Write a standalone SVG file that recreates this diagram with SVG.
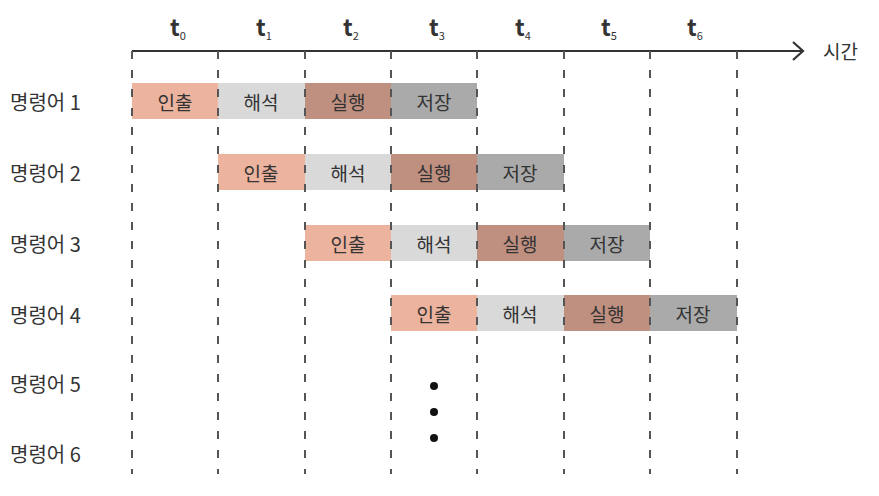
<svg xmlns="http://www.w3.org/2000/svg" width="879" height="496" viewBox="0 0 879 496">
<style>
text{font-family:"Noto Sans CJK KR","Noto Sans",sans-serif;fill:#333}
.lab{font-size:20px;dominant-baseline:central}
.bt{font-size:19px;text-anchor:middle;dominant-baseline:central}
.tt{font-size:23px;font-weight:bold;text-anchor:middle}
.sub{font-size:11px;font-weight:normal}
.a{fill:#ecb39e}.b{fill:#d9d9d9}.c{fill:#bf8f80}.d{fill:#aaaaaa}
.grid line{stroke:#555;stroke-width:2;stroke-dasharray:8 11}
</style>
<g id="axis">
<line x1="132" y1="51" x2="803" y2="51" stroke="#333" stroke-width="2.2"/>
<polyline points="793,42 803,51 793,60" fill="none" stroke="#333" stroke-width="2.2"/>
<text x="823" y="59" style="font-size:19px">시간</text>
</g>
<g id="tlabels">
<text class="tt" x="178" y="36">t<tspan class="sub" dy="4">0</tspan></text>
<text class="tt" x="264" y="36">t<tspan class="sub" dy="4">1</tspan></text>
<text class="tt" x="351" y="36">t<tspan class="sub" dy="4">2</tspan></text>
<text class="tt" x="437" y="36">t<tspan class="sub" dy="4">3</tspan></text>
<text class="tt" x="523" y="36">t<tspan class="sub" dy="4">4</tspan></text>
<text class="tt" x="609" y="36">t<tspan class="sub" dy="4">5</tspan></text>
<text class="tt" x="695" y="36">t<tspan class="sub" dy="4">6</tspan></text>
</g>
<g id="rowlabels">
<text class="lab" x="10" y="101">명령어 1</text>
<text class="lab" x="10" y="172">명령어 2</text>
<text class="lab" x="10" y="243">명령어 3</text>
<text class="lab" x="10" y="314">명령어 4</text>
<text class="lab" x="10" y="383">명령어 5</text>
<text class="lab" x="10" y="453">명령어 6</text>
</g>
<g id="row1">
<rect class="a" x="132" y="83" width="86" height="36"/><text class="bt" x="175" y="101">인출</text>
<rect class="b" x="218" y="83" width="87" height="36"/><text class="bt" x="261" y="101">해석</text>
<rect class="c" x="305" y="83" width="86" height="36"/><text class="bt" x="348" y="101">실행</text>
<rect class="d" x="391" y="83" width="86" height="36"/><text class="bt" x="434" y="101">저장</text>
</g>
<g id="row2">
<rect class="a" x="218" y="154" width="87" height="36"/><text class="bt" x="261" y="172">인출</text>
<rect class="b" x="305" y="154" width="86" height="36"/><text class="bt" x="348" y="172">해석</text>
<rect class="c" x="391" y="154" width="86" height="36"/><text class="bt" x="434" y="172">실행</text>
<rect class="d" x="477" y="154" width="87" height="36"/><text class="bt" x="520" y="172">저장</text>
</g>
<g id="row3">
<rect class="a" x="305" y="225" width="86" height="36"/><text class="bt" x="348" y="243">인출</text>
<rect class="b" x="391" y="225" width="86" height="36"/><text class="bt" x="434" y="243">해석</text>
<rect class="c" x="477" y="225" width="87" height="36"/><text class="bt" x="520" y="243">실행</text>
<rect class="d" x="564" y="225" width="86" height="36"/><text class="bt" x="607" y="243">저장</text>
</g>
<g id="row4">
<rect class="a" x="391" y="295" width="86" height="36"/><text class="bt" x="434" y="313">인출</text>
<rect class="b" x="477" y="295" width="87" height="36"/><text class="bt" x="520" y="313">해석</text>
<rect class="c" x="564" y="295" width="86" height="36"/><text class="bt" x="607" y="313">실행</text>
<rect class="d" x="650" y="295" width="87" height="36"/><text class="bt" x="693" y="313">저장</text>
</g>
<g id="grid" class="grid">
<line x1="132" y1="51" x2="132" y2="474"/>
<line x1="218" y1="51" x2="218" y2="474"/>
<line x1="305" y1="51" x2="305" y2="474"/>
<line x1="391" y1="51" x2="391" y2="474"/>
<line x1="477" y1="51" x2="477" y2="474"/>
<line x1="564" y1="51" x2="564" y2="474"/>
<line x1="650" y1="51" x2="650" y2="474"/>
<line x1="737" y1="51" x2="737" y2="474"/>
</g>
<g id="dots" fill="#111">
<circle cx="434" cy="386" r="4"/>
<circle cx="434" cy="412" r="4"/>
<circle cx="434" cy="438" r="4"/>
</g>
</svg>
